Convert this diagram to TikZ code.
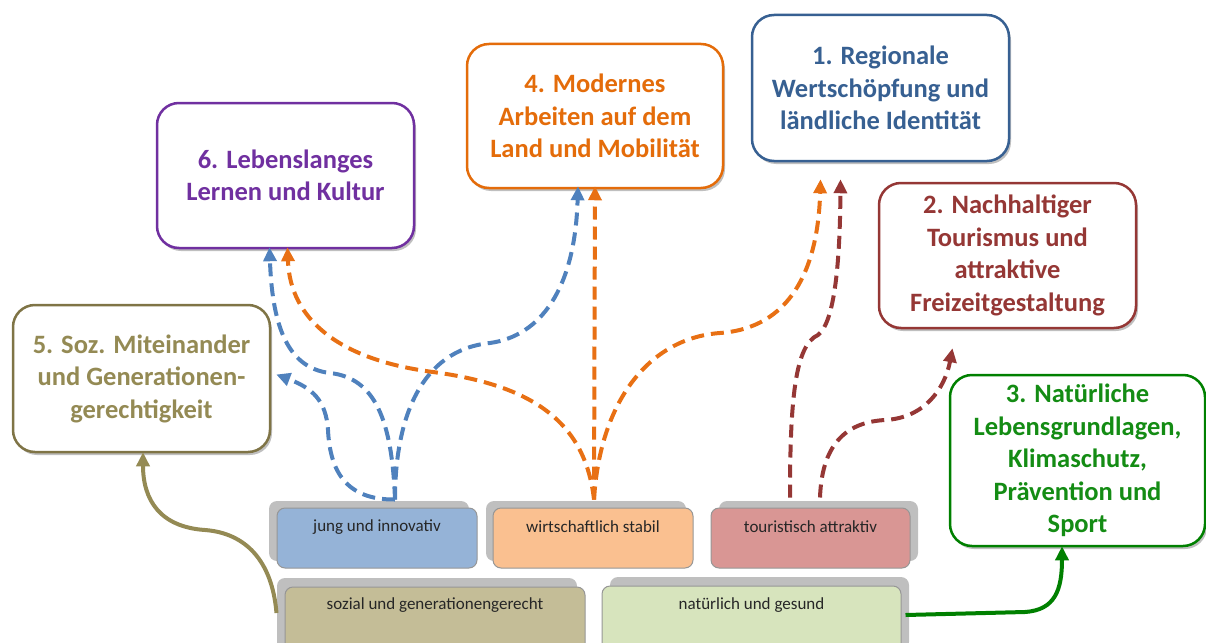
\documentclass[tikz,border=0pt]{standalone}
\usepackage{fontspec}
\setmainfont{Carlito}
\usetikzlibrary{arrows.meta,shadows,calc}
\definecolor{cpurple}{RGB}{112,48,160}
\definecolor{corange}{RGB}{228,108,10}
\definecolor{cblue}{RGB}{55,96,146}
\definecolor{cred}{RGB}{149,55,53}
\definecolor{colive}{RGB}{148,138,84}
\definecolor{coliveb}{RGB}{127,116,70}
\definecolor{cgreen}{RGB}{20,140,20}
\definecolor{cgreenb}{RGB}{0,128,0}
\definecolor{ablue}{RGB}{79,129,189}
\definecolor{aorange}{RGB}{232,112,20}
\definecolor{fjung}{RGB}{149,179,215}
\definecolor{fwirt}{RGB}{250,192,144}
\definecolor{ftour}{RGB}{217,150,148}
\definecolor{fsoz}{RGB}{196,189,151}
\definecolor{fnat}{RGB}{215,228,189}
\definecolor{shgrey}{RGB}{191,191,191}
\definecolor{bordgrey}{RGB}{150,150,150}
\definecolor{btxt}{RGB}{38,38,38}
\begin{document}
\begin{tikzpicture}[x=1pt,y=-1pt,
  topbox/.style={draw=#1, line width=2.5pt, fill=white, rounded corners=22pt,
    inner sep=0pt, align=center,
    font=\fontsize{26.5}{32.5}\selectfont\bfseries,
    drop shadow={shadow xshift=2pt,shadow yshift=-3pt,opacity=0.25,fill=black}},
  bbox/.style={draw=bordgrey, line width=1pt, fill=#1, rounded corners=8pt, inner sep=0pt},
  btext/.style={text=btxt, font=\fontsize{17}{20}\selectfont, inner sep=0pt},
  bshadow/.style={fill=shgrey, rounded corners=8pt},
  dasharrow/.style={draw=#1, line width=4pt, dash pattern=on 13pt off 7pt,
    -{Triangle[length=14pt,width=13pt]}},
  solidarrow/.style={draw=#1, line width=4pt, -{Triangle[length=14pt,width=13pt]}}
]
\useasboundingbox (0,0) rectangle (1206,642);

% top boxes
\node[topbox=cpurple, text=cpurple, minimum width=257, minimum height=145] (b6) at (285.5,175.5)
  {6. Lebenslanges\\Lernen und Kultur};
\node[topbox=corange, text=corange, minimum width=256, minimum height=144] (b4) at (595,116)
  {4. Modernes\\Arbeiten auf dem\\Land und Mobilität};
\node[topbox=cblue, text=cblue, minimum width=257, minimum height=146] (b1) at (880.5,88)
  {1. Regionale\\Wertschöpfung und\\ländliche Identität};
\node[topbox=cred, text=cred, minimum width=257, minimum height=145] (b2) at (1007.5,255.5)
  {2. Nachhaltiger\\Tourismus und\\attraktive\\Freizeitgestaltung};
\node[topbox=coliveb, text=colive, minimum width=257, minimum height=147] (b5) at (141.5,378.5)
  {5. Soz. Miteinander\\und Generationen-\\gerechtigkeit};
\node[topbox=cgreenb, text=cgreen, minimum width=255, minimum height=171] (b3) at (1077.5,460.5)
  {3. Natürliche\\Lebensgrundlagen,\\Klimaschutz,\\Prävention und\\Sport};

% bottom box shadows
\fill[bshadow] (269,501) rectangle (469,561);
\fill[bshadow] (486,501) rectangle (686,561);
\fill[bshadow] (719,501) rectangle (918,561);
\fill[bshadow] (277,578) rectangle (577,650);
\fill[bshadow] (610,577) rectangle (909,650);

% bottom boxes
\node[bbox=fjung, minimum width=200, minimum height=60] (jung) at (377,538) {};
\node[bbox=fwirt, minimum width=200, minimum height=60] (wirt) at (593,538) {};
\node[bbox=ftour, minimum width=199, minimum height=60] (tour) at (810.5,538) {};
\node[bbox=fsoz, minimum width=300, minimum height=66] (soz) at (435,620) {};
\node[bbox=fnat, minimum width=299, minimum height=66] (nat) at (751.5,619) {};

\node[btext] (tjung) at (377,527) {jung und innovativ};
\node[btext] (twirt) at (593,527) {wirtschaftlich stabil};
\node[btext] (ttour) at (810.5,527) {touristisch attraktiv};
\node[btext] (tsoz) at (435,605) {sozial und generationengerecht};
\node[btext] (tnat) at (751.5,605) {natürlich und gesund};

% start coordinates
\coordinate (sJ) at ($(jung.north)+(18,-8)$);
\coordinate (sW) at ($(wirt.north)+(1,-8)$);
\coordinate (sT1) at ($(tour.north)+(-20.5,-10)$);
\coordinate (sT2) at ($(tour.north)+(9.5,-10)$);
\coordinate (sS) at ($(soz.west)+(-8,-7)$);
\coordinate (sN) at ($(nat.east)+(4,-4)$);

% blue arrows
\draw[dasharrow=ablue] (sJ) .. controls (395,420) and (420,350) .. (490,343)
  .. controls (540,336) and (575,290) .. ([xshift=-17pt,yshift=3pt]b4.south);
\draw[dasharrow=ablue] (sJ) .. controls (392,420) and (375,378) .. (330,373)
  .. controls (285,368) and (272,320) .. ([xshift=-16pt,yshift=2pt]b6.south);
\draw[dasharrow=ablue] (sJ) .. controls (345,500) and (330,470) .. (328,430)
  .. controls (326,400) and (312,388) .. ([xshift=5pt,yshift=4pt]b5.east);

% orange arrows
\draw[dasharrow=aorange] (sW) -- ([yshift=3pt]b4.south);
\draw[dasharrow=aorange] (sW) .. controls (585,420) and (530,385) .. (433,372)
  .. controls (340,360) and (290,320) .. ([xshift=2pt,yshift=2pt]b6.south);
\coordinate (e1o) at ($(b1.south)+(-60,17)$);
\draw[dasharrow=aorange] (sW) .. controls (600,400) and (650,338) .. (720,333)
  .. controls (790,328) and (818,270) .. (e1o);

% dark red arrows
\coordinate (e1r) at ($(b1.south)+(-40,17)$);
\draw[dasharrow=cred] (sT1) .. controls (790,400) and (795,345) .. (818,335)
  .. controls (835,322) and (840,260) .. (e1r);
\coordinate (e2r) at ($(b2.south)+(-55,19)$);
\draw[dasharrow=cred] (sT2) .. controls (822,440) and (850,422) .. (885,420)
  .. controls (925,418) and (945,388) .. (e2r);

% solid arrows
\draw[solidarrow=colive] (sS) .. controls (272,560) and (245,533) .. (205,530)
  .. controls (160,527) and (143,500) .. ([xshift=1.5pt,yshift=1pt]b5.south);
\draw[solidarrow=cgreenb] (sN) -- (1025,612) .. controls (1055,610) and (1062,590)
  .. ([xshift=-15.5pt,yshift=1pt]b3.south);
\end{tikzpicture}
\end{document}
